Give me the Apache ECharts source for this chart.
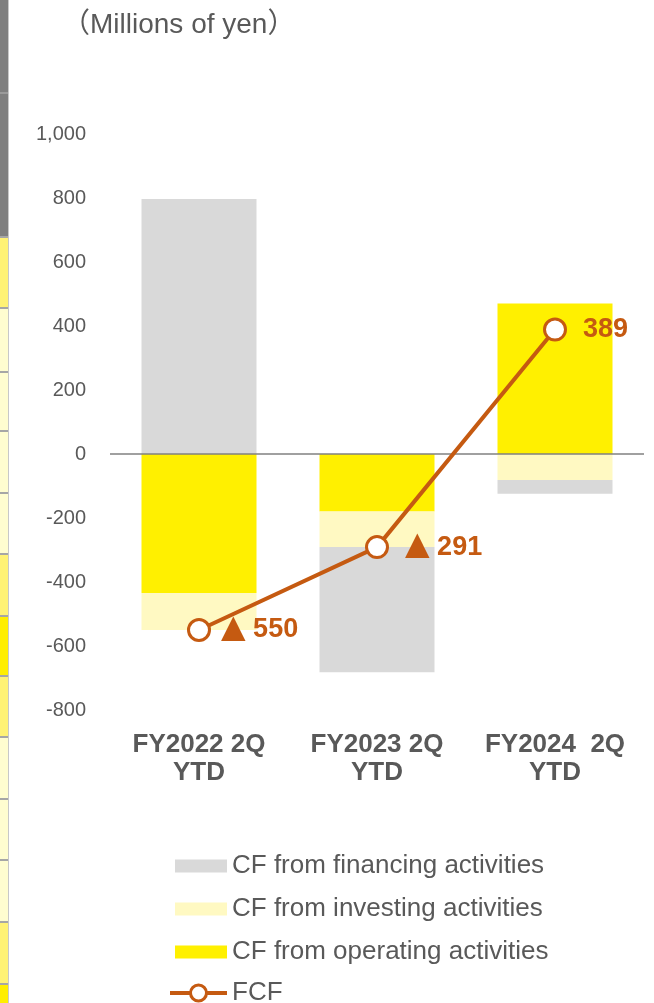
<!DOCTYPE html>
<html>
<head>
<meta charset="utf-8">
<script src="https://cdn.jsdelivr.net/npm/echarts@6/dist/echarts.min.js"></script>
<style>
html,body{margin:0;padding:0;background:#fff;}
#c{width:654px;height:1003px;}
</style>
</head>
<body>
<div id="c"></div>
<script>
const categories = ['FY2022 2Q\nYTD', 'FY2023 2Q\nYTD', 'FY2024  2Q\nYTD'];
const operating = [-434, -180, 470];
const investing = [-116, -111, -81];
const financing = [797, -391, -43];
const fcf = [-550, -291, 389];
const fcfTriangles = ['▲', '▲', ''];
const fcfLabels = ['550', '291', '389'];
const seriesNames = ['CF from financing activities', 'CF from investing activities', 'CF from operating activities', 'FCF'];
const yMin = -800, yMax = 1000, yStep = 200;

const FONT = '"Liberation Sans", Arial, "DejaVu Sans", "Noto Sans CJK JP", sans-serif';
const TXT = '#595959';
const ORANGE = '#C55A11';

// decorative strip on the left edge (cropped table remnant)
const stripCells = [
  [0, 93, '#7F7F7F'], [93, 237, '#7F7F7F'],
  [237, 308, '#FFF275'], [308, 372, '#FFFDD0'], [372, 431, '#FFFDD0'],
  [431, 493, '#FFFDD0'], [493, 554, '#FFFDD0'], [554, 616, '#FFF275'],
  [616, 676, '#FFEE00'], [676, 737, '#FFF275'], [737, 799, '#FFFDD0'],
  [799, 860, '#FFFDD0'], [860, 922, '#FFFDD0'], [922, 984, '#FFF275'],
  [984, 1003, '#FFEE00']
];
const graphics = [];
stripCells.forEach(function (c) {
  graphics.push({ type: 'rect', silent: true, shape: { x: 0, y: c[0], width: 8, height: c[1] - c[0] }, style: { fill: c[2] } });
  if (c[0] > 0) {
    graphics.push({ type: 'rect', silent: true, shape: { x: 0, y: c[0] - 1, width: 8, height: 2 }, style: { fill: c[2] === '#7F7F7F' ? '#9A9A9A' : '#A6A6A6' } });
  }
});
graphics.push({ type: 'rect', silent: true, shape: { x: 8, y: 0, width: 1, height: 1003 }, style: { fill: '#C8C8C8' } });

const chart = echarts.init(document.getElementById('c'), null, { renderer: 'canvas' });
const labelDist = [10, 16, 16];

chart.setOption({
  animation: false,
  backgroundColor: '#fff',
  textStyle: { fontFamily: FONT },
  graphic: graphics,
  title: {
    text: '（Millions of yen）',
    left: 57, top: 6,
    textStyle: { fontFamily: FONT, fontSize: 28, fontWeight: 'normal', color: TXT }
  },
  legend: [
    {
      orient: 'vertical',
      left: 170, top: 848, height: 200,
      itemWidth: 52, itemHeight: 13, itemGap: 17,
      data: [
        { name: seriesNames[0], icon: 'rect' },
        { name: seriesNames[1], icon: 'rect' },
        { name: seriesNames[2], icon: 'rect' }
      ],
      textStyle: { fontFamily: FONT, fontSize: 26, color: TXT, lineHeight: 26 }
    },
    {
      orient: 'vertical',
      left: 163, top: 975, height: 40,
      itemWidth: 57, itemHeight: 20,
      data: [
        { name: seriesNames[3], lineStyle: { width: 4 }, itemStyle: { borderWidth: 3 } }
      ],
      textStyle: { fontFamily: FONT, fontSize: 26, color: TXT, lineHeight: 26 }
    }
  ],
  grid: { left: 110, right: 10, top: 134, bottom: 293, containLabel: false },
  xAxis: {
    type: 'category',
    data: categories,
    axisLine: { show: false },
    axisTick: { show: false },
    axisLabel: { interval: 0, hideOverlap: false, fontFamily: FONT, fontSize: 26, fontWeight: 'bold', color: TXT, lineHeight: 28, margin: 21 }
  },
  yAxis: {
    type: 'value',
    min: yMin, max: yMax, interval: yStep,
    axisLine: { show: false },
    axisTick: { show: false },
    splitLine: { show: false },
    axisLabel: {
      fontFamily: FONT, fontSize: 20, color: TXT, margin: 24,
      formatter: function (v) { return v.toLocaleString('en-US'); }
    }
  },
  series: [
    {
      name: seriesNames[2], type: 'bar', stack: 'cf', barWidth: 115,
      data: operating, itemStyle: { color: '#FFF000' },
      markLine: {
        silent: true, symbol: 'none', label: { show: false },
        lineStyle: { color: '#808080', width: 1.5, type: 'solid' },
        data: [{ yAxis: 0 }]
      }
    },
    {
      name: seriesNames[1], type: 'bar', stack: 'cf', barWidth: 115,
      data: investing, itemStyle: { color: '#FFF9C2' }
    },
    {
      name: seriesNames[0], type: 'bar', stack: 'cf', barWidth: 115,
      data: financing, itemStyle: { color: '#D9D9D9' }
    },
    {
      name: seriesNames[3], type: 'line', z: 10,
      data: fcf.map(function (v, i) {
        const tri = fcfTriangles[i] ? '{tri|' + fcfTriangles[i] + '} ' : '';
        return { value: v, label: { formatter: tri + '{num|' + fcfLabels[i] + '}', distance: labelDist[i] } };
      }),
      symbol: 'circle', symbolSize: 21,
      lineStyle: { color: ORANGE, width: 4 },
      itemStyle: { color: '#fff', borderColor: ORANGE, borderWidth: 3 },
      label: {
        show: true, position: 'right',
        fontFamily: FONT, fontSize: 27, fontWeight: 'bold', color: ORANGE,
        rich: {
          tri: { fontFamily: '"DejaVu Sans", sans-serif', fontSize: 32, color: ORANGE, padding: [0, 0, 2, 0] },
          num: { fontFamily: FONT, fontSize: 27, fontWeight: 'bold', color: ORANGE }
        }
      }
    }
  ]
});
</script>
</body>
</html>
